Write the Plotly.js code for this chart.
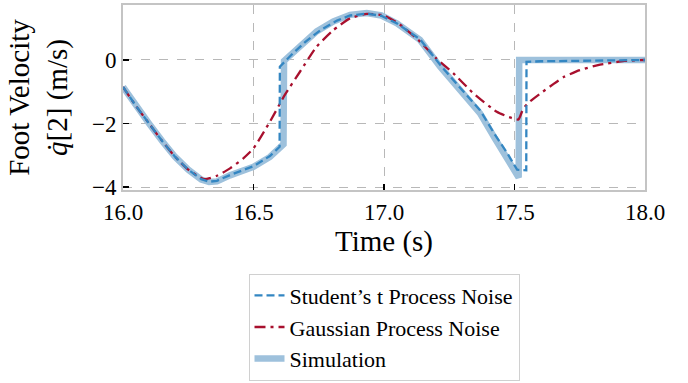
<!DOCTYPE html>
<html>
<head>
<meta charset="utf-8">
<script src="https://cdn.plot.ly/plotly-3.0.1.min.js"></script>
<style>html,body{margin:0;padding:0;background:#fff;}#chart{width:688px;height:383px;}</style>
</head>
<body>
<div id="chart"></div>
<script>
// Simulation (ground truth)
const simT = [16.00,16.05,16.10,16.15,16.20,16.25,16.30,16.33,16.36,16.41,16.50,16.563,16.615,16.617,16.678,16.742,16.806,16.87,16.934,16.99,17.05,17.138,17.215,17.29,17.368,17.425,17.47,17.51,17.516,17.518,18.00];
const simV = [-0.85,-1.45,-2.00,-2.55,-3.05,-3.45,-3.76,-3.84,-3.82,-3.63,-3.36,-3.05,-2.65,-0.03,0.45,0.90,1.21,1.42,1.48,1.40,1.15,0.63,-0.21,-0.94,-1.68,-2.47,-3.05,-3.62,-3.70,0.00,0.00];
// Student's t process noise estimate
const stuT = [16.00,16.05,16.10,16.15,16.20,16.25,16.30,16.33,16.36,16.41,16.50,16.563,16.600,16.601,16.65,16.70,16.76,16.82,16.87,16.934,16.99,17.05,17.138,17.215,17.29,17.368,17.425,17.47,17.51,17.545,17.546,17.60,17.80,18.00];
const stuV = [-0.85,-1.45,-2.00,-2.55,-3.05,-3.45,-3.75,-3.83,-3.80,-3.62,-3.34,-3.02,-2.73,-0.21,0.20,0.58,0.96,1.24,1.40,1.46,1.39,1.15,0.65,-0.15,-0.86,-1.58,-2.35,-2.90,-3.45,-3.47,-0.06,-0.04,-0.02,0.00];
// Gaussian process noise estimate
const gauT = [16.00,16.05,16.10,16.15,16.20,16.25,16.31,16.36,16.41,16.46,16.50,16.563,16.62,16.678,16.742,16.806,16.87,16.934,17.00,17.06,17.138,17.20,17.266,17.343,17.432,17.48,17.515,17.534,17.56,17.60,17.65,17.69,17.75,17.82,17.92,18.00];
const gauV = [-0.85,-1.45,-2.00,-2.55,-3.05,-3.45,-3.75,-3.64,-3.41,-3.10,-2.78,-1.94,-1.10,-0.37,0.42,0.94,1.31,1.45,1.40,1.12,0.58,0.05,-0.42,-1.05,-1.63,-1.80,-1.87,-1.52,-1.30,-1.05,-0.75,-0.53,-0.32,-0.16,-0.03,0.00];

const xTicks = [16.0,16.5,17.0,17.5,18.0];
const yTicks = [0,-2,-4];

const FONT = 'Liberation Serif';

const traces = [
  {x: simT, y: simV, type: 'scatter', mode: 'lines', name: 'Simulation',
   line: {color: '#9ec1dc', width: 6.5}},
  {x: gauT, y: gauV, type: 'scatter', mode: 'lines', name: 'Gaussian Process Noise',
   line: {color: '#a8102e', width: 2.3, dash: '11px,5px,3px,5px', shape: 'spline', smoothing: 0.5}},
  {x: stuT, y: stuV, type: 'scatter', mode: 'lines', name: "Student’s t Process Noise",
   line: {color: '#3386c2', width: 2.3, dash: '8px,4px'}}
];

const layout = {
  width: 688, height: 383,
  margin: {l: 123, r: 43, t: 5, b: 193, autoexpand: false},
  paper_bgcolor: '#ffffff', plot_bgcolor: '#ffffff',
  font: {family: FONT, size: 23, color: '#000'},
  showlegend: true,
  legend: {
    x: 0.5, xanchor: 'center', y: -0.452, yanchor: 'top',
    traceorder: 'reversed',
    bordercolor: '#d0d0d0', borderwidth: 1, bgcolor: '#ffffff',
    font: {family: FONT, size: 22, color: '#000'},
    tracegroupgap: 0
  },
  xaxis: {
    range: [16.0, 18.0], tickvals: xTicks, tickformat: '.1f', automargin: false,
    ticks: 'inside', ticklen: 6, tickwidth: 1.5, tickcolor: '#000',
    showline: true, linecolor: '#c4c4c4', linewidth: 2, mirror: true,
    showgrid: true, gridcolor: '#b8b8b8', gridwidth: 1, griddash: 'dash',
    zeroline: false,
    title: {text: 'Time (s)', font: {family: FONT, size: 29}, standoff: 6},
    tickfont: {family: FONT, size: 23}
  },
  yaxis: {
    range: [-4.09, 1.73], tickvals: yTicks, automargin: false,
    ticks: 'inside', ticklen: 6, tickwidth: 1.5, tickcolor: '#000',
    showline: true, linecolor: '#c4c4c4', linewidth: 2, mirror: true,
    showgrid: true, gridcolor: '#b8b8b8', gridwidth: 1, griddash: 'dash',
    zeroline: false,
    title: {text: 'Foot Velocity<br><i>q̇</i>[2] (m/s)', font: {family: FONT, size: 29}, standoff: 16},
    tickfont: {family: FONT, size: 23}
  }
};

Plotly.newPlot('chart', traces, layout, {displayModeBar: false, staticPlot: true});
</script>
</body>
</html>
